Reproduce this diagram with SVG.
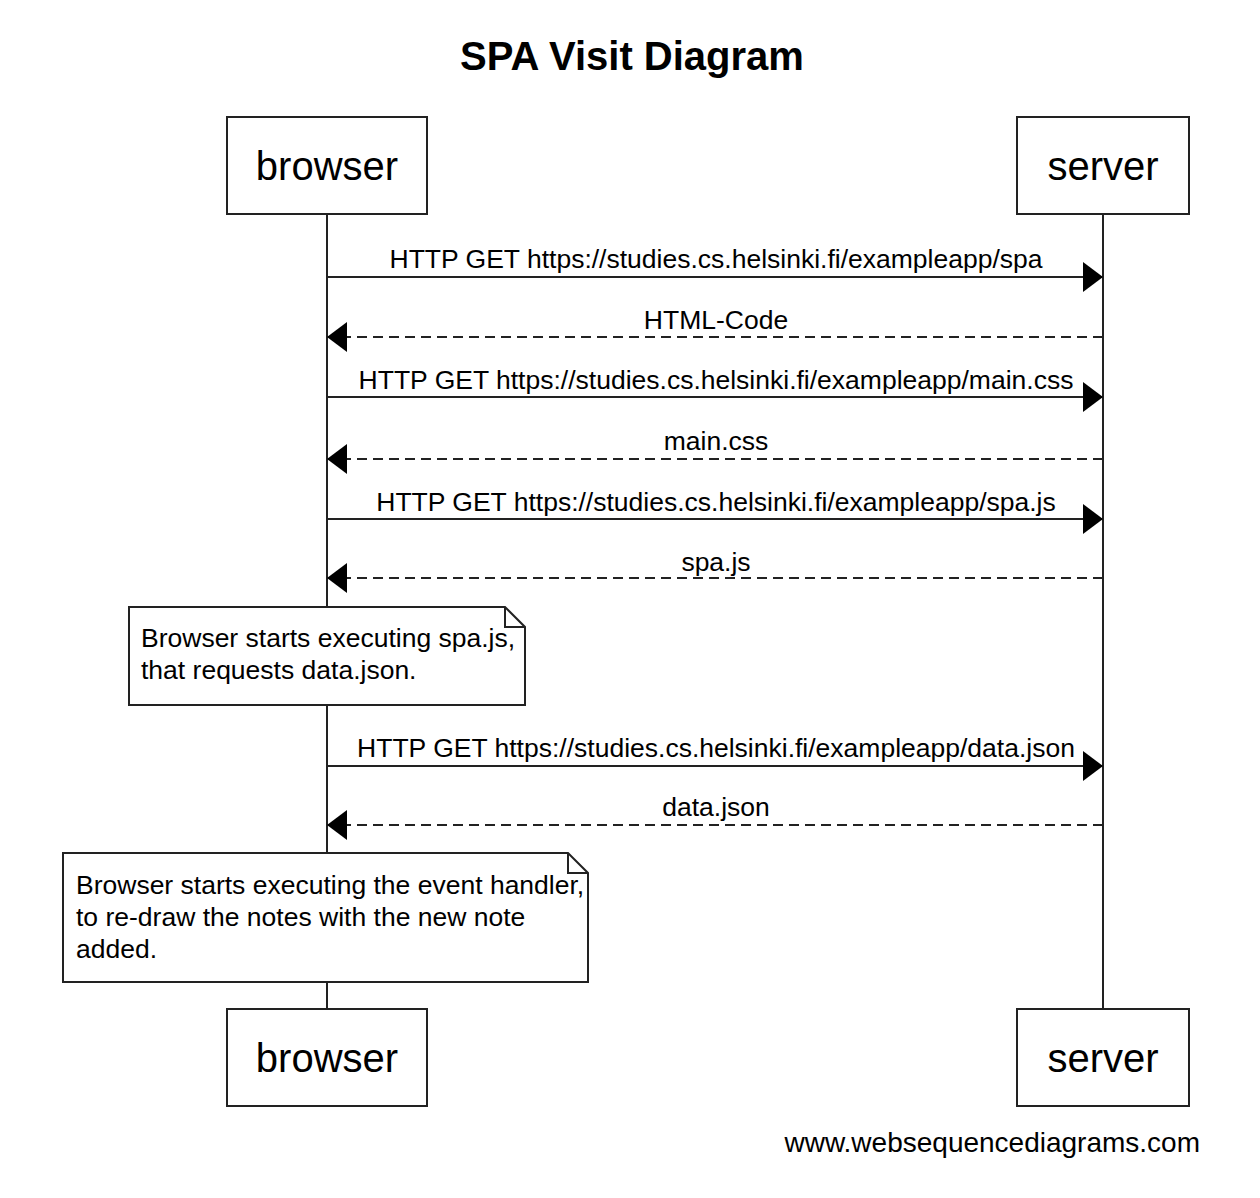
<svg xmlns="http://www.w3.org/2000/svg" width="1260" height="1198" viewBox="0 0 1260 1198">
<style>
  text { font-family: "Liberation Sans", Arial, sans-serif; fill: #000; }
  .title { font-size: 40px; font-weight: bold; text-anchor: middle; }
  .actor { font-size: 40px; text-anchor: middle; }
  .lbl { font-size: 26.5px; text-anchor: middle; }
  .note { font-size: 26.5px; }
  .box { fill: #fff; stroke: #222; stroke-width: 2; }
  .life { stroke: #222; stroke-width: 2; fill: none; }
  .msg { stroke: #222; stroke-width: 2; fill: none; marker-end: url(#ah); }
  .ret { stroke-dasharray: 10 6; }
  .fold { fill: none; stroke: #222; stroke-width: 2; }
</style>
<defs>
  <marker id="ah" markerUnits="userSpaceOnUse" markerWidth="20" markerHeight="30" refX="20" refY="15" orient="auto">
    <path d="M0,0 L20,15 L0,30 z" fill="#000"/>
  </marker>
</defs>
<rect width="1260" height="1198" fill="#fff"/>
<text class="title" x="632" y="70">SPA Visit Diagram</text>

<g id="lifelines">
  <line class="life" x1="327" y1="214" x2="327" y2="1009"/>
  <line class="life" x1="1103" y1="214" x2="1103" y2="1009"/>
</g>

<g id="connectors">
  <line class="msg" x1="327" y1="277" x2="1103" y2="277"/>
  <text class="lbl" x="716" y="268">HTTP GET https://studies.cs.helsinki.fi/exampleapp/spa</text>
  <line class="msg ret" x1="1103" y1="337" x2="327" y2="337"/>
  <text class="lbl" x="716" y="329">HTML-Code</text>
  <line class="msg" x1="327" y1="397" x2="1103" y2="397"/>
  <text class="lbl" x="716" y="389">HTTP GET https://studies.cs.helsinki.fi/exampleapp/main.css</text>
  <line class="msg ret" x1="1103" y1="459" x2="327" y2="459"/>
  <text class="lbl" x="716" y="450">main.css</text>
  <line class="msg" x1="327" y1="519" x2="1103" y2="519"/>
  <text class="lbl" x="716" y="511">HTTP GET https://studies.cs.helsinki.fi/exampleapp/spa.js</text>
  <line class="msg ret" x1="1103" y1="578" x2="327" y2="578"/>
  <text class="lbl" x="716" y="571">spa.js</text>
  <line class="msg" x1="327" y1="766" x2="1103" y2="766"/>
  <text class="lbl" x="716" y="757">HTTP GET https://studies.cs.helsinki.fi/exampleapp/data.json</text>
  <line class="msg ret" x1="1103" y1="825" x2="327" y2="825"/>
  <text class="lbl" x="716" y="816">data.json</text>
</g>

<g id="note1">
  <path class="box" d="M129,607 L505,607 L525,627 L525,705 L129,705 z"/>
  <path class="fold" d="M505,607 L505,627 L525,627"/>
  <text class="note" x="141" y="647">Browser starts executing spa.js,</text>
  <text class="note" x="141" y="679">that requests data.json.</text>
</g>

<g id="note2">
  <path class="box" d="M63,853 L568,853 L588,873 L588,982 L63,982 z"/>
  <path class="fold" d="M568,853 L568,873 L588,873"/>
  <text class="note" x="76" y="894">Browser starts executing the event handler,</text>
  <text class="note" x="76" y="926">to re-draw the notes with the new note</text>
  <text class="note" x="76" y="958">added.</text>
</g>

<g id="browser-top">
  <rect class="box" x="227" y="117" width="200" height="97"/>
  <text class="actor" x="327" y="180">browser</text>
</g>
<g id="server-top">
  <rect class="box" x="1017" y="117" width="172" height="97"/>
  <text class="actor" x="1103" y="180">server</text>
</g>
<g id="browser-bottom">
  <rect class="box" x="227" y="1009" width="200" height="97"/>
  <text class="actor" x="327" y="1072">browser</text>
</g>
<g id="server-bottom">
  <rect class="box" x="1017" y="1009" width="172" height="97"/>
  <text class="actor" x="1103" y="1072">server</text>
</g>

<text x="1200" y="1152" style="font-size:28px;text-anchor:end">www.websequencediagrams.com</text>
</svg>
